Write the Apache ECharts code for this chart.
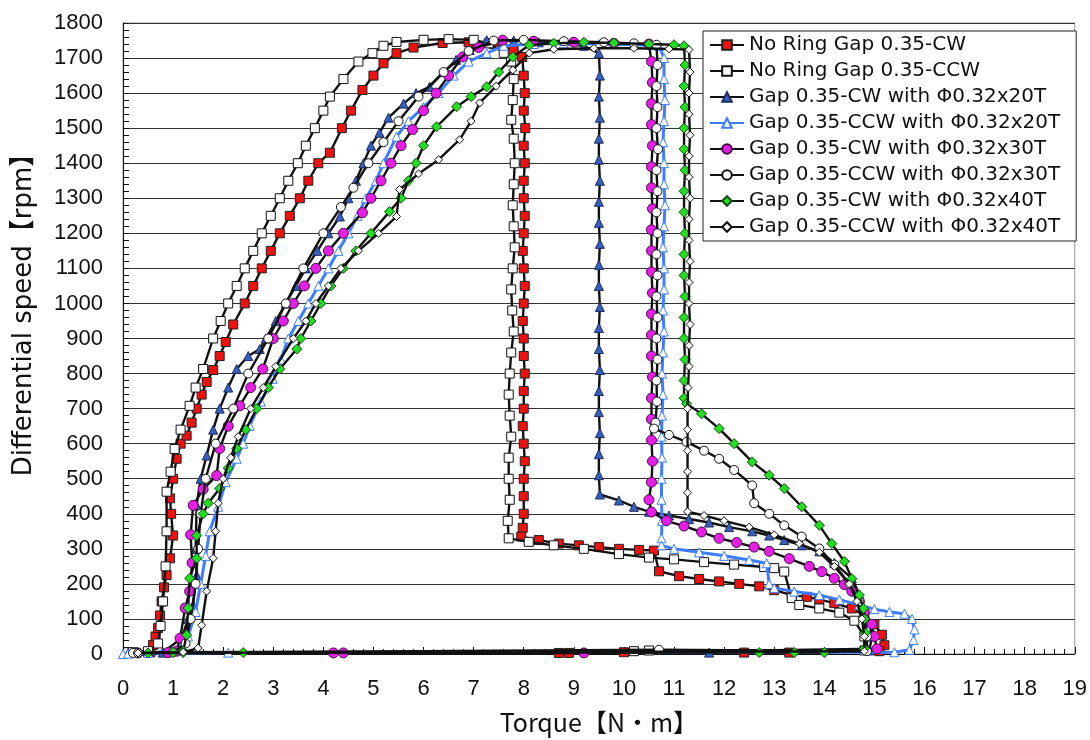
<!DOCTYPE html>
<html>
<head>
<meta charset="utf-8">
<script src="https://cdn.jsdelivr.net/npm/echarts@6/dist/echarts.min.js"></script>
<style>
html,body{margin:0;padding:0;background:#fff;}
#chart{width:1090px;height:740px;}
</style>
</head>
<body>
<div id="chart"></div>
<script>
// [torque N·m, differential speed rpm]
const seriesNames = [
  'No Ring Gap 0.35-CW',
  'No Ring Gap 0.35-CCW',
  'Gap 0.35-CW with Φ0.32x20T',
  'Gap 0.35-CCW with Φ0.32x20T',
  'Gap 0.35-CW with Φ0.32x30T',
  'Gap 0.35-CCW with Φ0.32x30T',
  'Gap 0.35-CW with Φ0.32x40T',
  'Gap 0.35-CCW with Φ0.32x40T'
];

const noRingCW = [
  [0.55,5],[0.6,26],[0.65,50],[0.7,74],[0.74,110],[0.77,150],[0.82,190],[0.87,225],[0.94,273],[1.0,338],[0.96,400],[0.94,444],[1.0,500],[1.07,557],[1.15,600],[1.27,623],[1.37,660],[1.47,700],[1.57,740],[1.67,776],[1.8,810],[1.93,850],[2.05,890],[2.2,940],[2.43,1000],[2.6,1050],[2.77,1100],[2.95,1150],[3.13,1200],[3.33,1250],[3.53,1300],[3.7,1350],[3.9,1400],[4.13,1430],[4.37,1500],[4.55,1550],[4.78,1609],[5.0,1650],[5.2,1685],[5.46,1714],[5.8,1730],[6.38,1743],[6.9,1745],[7.4,1740],[7.8,1722],[7.97,1703],
  [8.0,1650],[8.02,1600],[8.0,1550],[8.03,1500],[8.0,1450],[8.02,1400],[8.0,1350],[8.0,1300],[8.02,1250],[8.0,1200],[7.98,1150],[8.0,1100],[8.02,1050],[8.0,1000],[7.98,950],[8.0,900],[8.0,850],[8.02,800],[8.0,750],[8.0,700],[7.98,650],[8.0,600],[8.02,550],[8.0,500],[8.0,450],[8.0,400],[7.98,360],[7.95,335],
  [8.3,325],[8.7,315],[9.1,310],[9.5,305],[9.9,300],[10.3,297],[10.6,295],[10.7,236],[11.1,222],[11.5,214],[11.9,207],[12.3,200],[12.7,193],[13.0,182],[13.35,168],[13.65,163],[13.9,155],[14.2,145],[14.55,130],[14.8,110],[15.0,85],[15.15,55],[15.2,25],[15.1,8],
  [13.3,4],[12.4,4],[10.0,5],[8.9,3],[8.7,3],[0.5,5]
];

const noRingCCW = [
  [0.1,5],[0.5,8],[0.7,30],[0.75,80],[0.8,150],[0.85,250],[0.87,350],[0.87,463],[0.95,520],[1.03,585],[1.15,640],[1.33,708],[1.45,760],[1.6,813],[1.8,900],[1.95,950],[2.1,1000],[2.27,1050],[2.43,1100],[2.6,1150],[2.77,1200],[2.95,1250],[3.13,1300],[3.3,1350],[3.49,1400],[3.65,1450],[3.83,1500],[4.0,1550],[4.13,1590],[4.4,1640],[4.7,1690],[4.98,1714],[5.2,1735],[5.46,1746],[6.0,1752],[6.5,1754],[7.0,1752],[7.3,1742],[7.6,1715],[7.75,1690],
  [7.8,1640],[7.78,1580],[7.75,1524],[7.8,1470],[7.82,1400],[7.8,1340],[7.78,1280],[7.8,1220],[7.82,1160],[7.78,1100],[7.75,1040],[7.77,980],[7.8,920],[7.75,860],[7.72,800],[7.7,740],[7.72,680],[7.75,620],[7.7,560],[7.7,500],[7.72,440],[7.68,380],[7.7,330],
  [8.1,320],[8.6,310],[9.2,300],[9.9,285],[10.5,275],[11.0,270],[11.6,262],[12.2,255],[12.8,248],[13.0,245],[13.2,235],[13.35,160],[13.5,140],[13.9,130],[14.3,118],[14.6,95],[14.8,50],[14.8,10],
  [10.5,10],[10.2,8],[0.2,5]
];

const cw20T = [
  [0.1,3],[0.8,5],[1.17,45],[1.3,100],[1.4,140],[1.47,225],[1.45,300],[1.47,424],[1.55,500],[1.67,566],[1.8,640],[1.93,700],[2.1,760],[2.27,813],[2.5,850],[2.73,870],[2.85,900],[3.05,950],[3.25,1000],[3.45,1050],[3.65,1100],[3.88,1150],[4.1,1200],[4.33,1248],[4.5,1300],[4.65,1350],[4.8,1400],[4.95,1450],[5.12,1487],[5.3,1530],[5.6,1570],[5.85,1600],[6.12,1618],[6.4,1660],[6.65,1695],[6.92,1723],[7.26,1751],[7.8,1750],[8.3,1745],[8.8,1740],[9.2,1735],[9.5,1714],
  [9.52,1650],[9.5,1590],[9.52,1530],[9.5,1470],[9.5,1410],[9.52,1350],[9.5,1290],[9.5,1230],[9.52,1170],[9.5,1110],[9.5,1050],[9.52,990],[9.5,930],[9.5,870],[9.52,810],[9.5,750],[9.5,690],[9.52,630],[9.5,570],[9.5,510],[9.52,455],
  [9.9,438],[10.2,420],[10.5,406],[10.9,395],[11.3,385],[11.7,375],[12.1,362],[12.56,350],[12.9,338],[13.2,325],[13.55,310],[13.9,293],[14.2,260],[14.55,216],[14.7,170],[14.8,130],[14.9,90],[14.95,50],[14.9,10],
  [11.7,4],[0.8,4]
];

const ccw20T = [
  [0.0,0],[0.5,3],[1.1,10],[1.3,50],[1.45,120],[1.55,200],[1.65,280],[1.73,350],[1.9,420],[2.05,490],[2.27,557],[2.4,600],[2.53,651],[2.75,720],[2.99,785],[3.15,840],[3.3,900],[3.5,950],[3.7,1000],[3.9,1050],[4.1,1100],[4.3,1150],[4.5,1200],[4.68,1250],[4.85,1300],[5.05,1350],[5.2,1400],[5.46,1476],[5.7,1520],[6.0,1560],[6.3,1600],[6.6,1650],[6.9,1690],[7.26,1714],[7.6,1735],[8.2,1740],[8.8,1742],[9.5,1740],[10.2,1738],[10.7,1735],[10.8,1700],
  [10.8,1640],[10.82,1580],[10.8,1520],[10.78,1460],[10.8,1400],[10.8,1340],[10.82,1280],[10.8,1220],[10.78,1160],[10.8,1100],[10.8,1040],[10.78,980],[10.8,920],[10.78,860],[10.76,800],[10.78,740],[10.76,680],[10.75,620],[10.76,560],[10.75,500],[10.75,440],[10.76,380],[10.75,330],[10.75,310],
  [11.0,300],[11.5,290],[12.0,280],[12.5,268],[12.85,259],[12.9,200],[13.0,188],[13.4,178],[13.9,168],[14.3,155],[14.7,140],[15.0,128],[15.3,120],[15.6,115],[15.75,100],[15.8,70],[15.78,40],[15.7,12],[15.4,5],
  [2.1,4],[0.1,1]
];

const cw30T = [
  [0.3,3],[0.9,4],[1.07,8],[1.14,45],[1.24,131],[1.33,179],[1.38,260],[1.35,340],[1.4,424],[1.6,470],[1.87,509],[1.93,586],[2.1,650],[2.33,708],[2.55,760],[2.79,813],[3.0,900],[3.2,950],[3.4,1000],[3.62,1050],[3.85,1100],[4.1,1150],[4.4,1200],[4.78,1259],[4.95,1300],[5.15,1350],[5.35,1400],[5.55,1450],[5.78,1496],[6.0,1550],[6.25,1600],[6.5,1650],[6.78,1703],[7.1,1730],[7.58,1751],[8.2,1748],[9.0,1745],[9.8,1742],[10.5,1740],
  [10.55,1690],[10.57,1630],[10.55,1570],[10.55,1510],[10.57,1450],[10.55,1390],[10.55,1330],[10.57,1270],[10.55,1210],[10.55,1150],[10.55,1090],[10.57,1030],[10.55,970],[10.55,910],[10.55,850],[10.57,790],[10.55,730],[10.55,670],[10.55,610],[10.57,550],[10.55,490],[10.5,440],[10.55,405],
  [10.85,380],[11.2,365],[11.55,348],[11.9,330],[12.25,318],[12.6,305],[12.9,293],[13.3,272],[13.7,250],[13.95,235],[14.2,216],[14.4,198],[14.55,179],[14.7,150],[14.8,120],[14.95,85],[15.0,50],[15.05,15],
  [9.2,3],[4.4,3],[4.2,3],[0.9,4]
];

const ccw30T = [
  [0.2,3],[1.0,5],[1.25,30],[1.35,100],[1.45,200],[1.5,300],[1.55,400],[1.65,500],[1.85,600],[2.2,700],[2.5,800],[2.9,900],[3.25,1000],[3.6,1100],[4.0,1200],[4.35,1275],[4.6,1330],[4.9,1400],[5.2,1460],[5.5,1520],[5.9,1590],[6.4,1660],[6.9,1720],[7.4,1750],[8.0,1752],[8.8,1748],[9.6,1745],[10.2,1742],[10.65,1738],
  [10.67,1680],[10.65,1620],[10.67,1560],[10.65,1500],[10.68,1440],[10.65,1380],[10.67,1320],[10.65,1260],[10.67,1200],[10.65,1140],[10.67,1080],[10.65,1020],[10.67,960],[10.65,900],[10.67,840],[10.65,780],[10.66,720],[10.63,660],[10.6,643],
  [10.9,625],[11.25,605],[11.6,580],[11.9,557],[12.2,525],[12.56,481],[12.6,430],[12.9,400],[13.2,367],[13.55,335],[13.9,301],[14.2,255],[14.5,200],[14.7,150],[14.8,100],[14.85,50],[14.85,8],
  [10.7,12],[0.3,3]
];

const cw40T = [
  [0.5,3],[1.0,4],[1.2,8],[1.27,54],[1.3,131],[1.33,216],[1.47,273],[1.47,338],[1.6,400],[1.7,430],[1.93,472],[2.1,530],[2.27,586],[2.45,640],[2.67,700],[2.9,760],[3.13,813],[3.47,870],[3.55,900],[3.75,950],[3.95,1000],[4.15,1050],[4.4,1100],[4.65,1150],[4.95,1200],[5.32,1262],[5.55,1300],[5.7,1350],[5.85,1400],[6.0,1450],[6.26,1504],[6.66,1561],[6.95,1590],[7.26,1618],[7.5,1660],[7.78,1703],[8.11,1737],[8.6,1742],[9.2,1745],[9.8,1743],[10.5,1740],[11.0,1738],[11.2,1735],
  [11.22,1680],[11.2,1620],[11.22,1560],[11.2,1500],[11.2,1440],[11.22,1380],[11.2,1320],[11.2,1260],[11.22,1200],[11.2,1140],[11.2,1080],[11.22,1020],[11.2,960],[11.2,900],[11.22,840],[11.2,780],[11.2,730],
  [11.25,714],[11.55,685],[11.9,643],[12.2,600],[12.56,548],[12.9,510],[13.2,472],[13.55,420],[13.9,367],[14.15,315],[14.4,264],[14.55,215],[14.7,168],[14.78,130],[14.8,100],[14.82,60],[14.8,15],
  [14.0,4],[13.4,4],[12.7,4],[2.4,4],[1.2,4]
];

const ccw40T = [
  [0.3,3],[1.2,5],[1.5,17],[1.57,82],[1.67,179],[1.8,273],[1.85,350],[1.9,430],[2.0,500],[2.15,560],[2.3,620],[2.55,700],[2.8,760],[3.05,820],[3.4,900],[3.65,950],[3.85,1000],[4.1,1050],[4.35,1100],[4.7,1150],[5.1,1200],[5.46,1248],[5.52,1325],[5.9,1370],[6.3,1410],[6.72,1467],[6.95,1520],[7.12,1572],[7.45,1620],[7.78,1666],[8.11,1714],[8.6,1725],[9.4,1728],[10.2,1728],[10.9,1726],[11.3,1724],
  [11.32,1660],[11.3,1600],[11.3,1540],[11.32,1480],[11.3,1420],[11.3,1360],[11.32,1300],[11.3,1240],[11.3,1180],[11.32,1120],[11.3,1060],[11.3,1000],[11.32,940],[11.3,880],[11.3,820],[11.28,760],[11.27,700],[11.27,640],[11.27,580],[11.27,520],[11.27,460],[11.27,406],
  [11.6,395],[12.0,380],[12.5,362],[13.0,340],[13.5,315],[13.9,290],[14.2,250],[14.5,200],[14.65,150],[14.75,100],[14.8,50],[14.8,8],
  [0.3,3]
];

const seriesData = [noRingCW, noRingCCW, cw20T, ccw20T, cw30T, ccw30T, cw40T, ccw40T];

const styles = [
  {symbol:'rect', size:9, fill:'#ee1111', border:'#222', line:'#111', lw:2.4},
  {symbol:'rect', size:9, fill:'#ffffff', border:'#111', line:'#111', lw:2.4},
  {symbol:'triangle', size:9, fill:'#3a5fb8', border:'#1b2d66', line:'#111', lw:2.4},
  {symbol:'triangle', size:9, fill:'#ffffff', border:'#3d7dff', line:'#3d7dff', lw:3},
  {symbol:'circle', size:10, fill:'#e61ee6', border:'#4a0f4a', line:'#111', lw:2.4},
  {symbol:'circle', size:9, fill:'#ffffff', border:'#111', line:'#111', lw:2.4},
  {symbol:'diamond', size:10, fill:'#22dd22', border:'#124d12', line:'#111', lw:2.4},
  {symbol:'diamond', size:8, fill:'#ffffff', border:'#111', line:'#111', lw:2.4}
];

const chart = echarts.init(document.getElementById('chart'), null, {renderer:'canvas'});

const series = seriesNames.map((name, i) => ({
  name: name,
  type: 'line',
  data: seriesData[i],
  symbol: styles[i].symbol,
  symbolSize: styles[i].size,
  showAllSymbol: true,
  animation: false,
  lineStyle: {color: styles[i].line, width: styles[i].lw},
  itemStyle: {color: styles[i].fill, borderColor: styles[i].border, borderWidth: 1},
  z: 2 + i
}));

chart.setOption({
  animation: false,
  backgroundColor: '#ffffff',
  grid: {left: 123, top: 23, width: 953, height: 633, show: true, borderColor: '#999', borderWidth: 1, containLabel: false},
  legend: {
    data: seriesNames,
    orient: 'vertical',
    left: 703, top: 31,
    padding: [4, 16, 4, 6],
    itemGap: 6,
    itemWidth: 34,
    itemHeight: 12,
    backgroundColor: '#ffffff',
    borderColor: '#222',
    borderWidth: 1,
    textStyle: {fontFamily: 'DejaVu Sans, Noto Sans CJK JP', fontSize: 20, color: '#111', lineHeight: 19.6}
  },
  xAxis: {
    type: 'value', min: 0, max: 19, interval: 1,
    name: 'Torque【N・m】', nameLocation: 'middle', nameGap: 56,
    nameTextStyle: {fontFamily: 'Noto Sans CJK JP', fontSize: 25, color: '#111'},
    axisLine: {show: true, lineStyle: {color: '#111', width: 1}},
    axisTick: {show: true, inside: true, length: 7, lineStyle: {color: '#111'}},
    minorTick: {show: true, splitNumber: 5, length: 5, lineStyle: {color: '#111'}},
    splitLine: {show: false},
    axisLabel: {fontFamily: 'Liberation Sans', fontSize: 22, color: '#111', margin: 24}
  },
  yAxis: {
    type: 'value', min: 0, max: 1800, interval: 100,
    name: 'Differential speed【rpm】', nameLocation: 'middle', nameGap: 86, nameRotate: 90,
    nameTextStyle: {fontFamily: 'DejaVu Sans, Noto Sans CJK JP', fontSize: 26, color: '#111', padding: [0, 0, 0, 60]},
    axisLine: {show: true, lineStyle: {color: '#111', width: 1}},
    axisTick: {show: true, inside: true, length: 6, lineStyle: {color: '#111'}},
    minorTick: {show: true, splitNumber: 5, length: 6, lineStyle: {color: '#111'}},
    splitLine: {show: true, lineStyle: {color: '#333', width: 1.2}},
    axisLabel: {fontFamily: 'Liberation Sans', fontSize: 22, color: '#111', margin: 20, formatter: function (v) { return String(v); }}
  },
  series: series
});
</script>
</body>
</html>
